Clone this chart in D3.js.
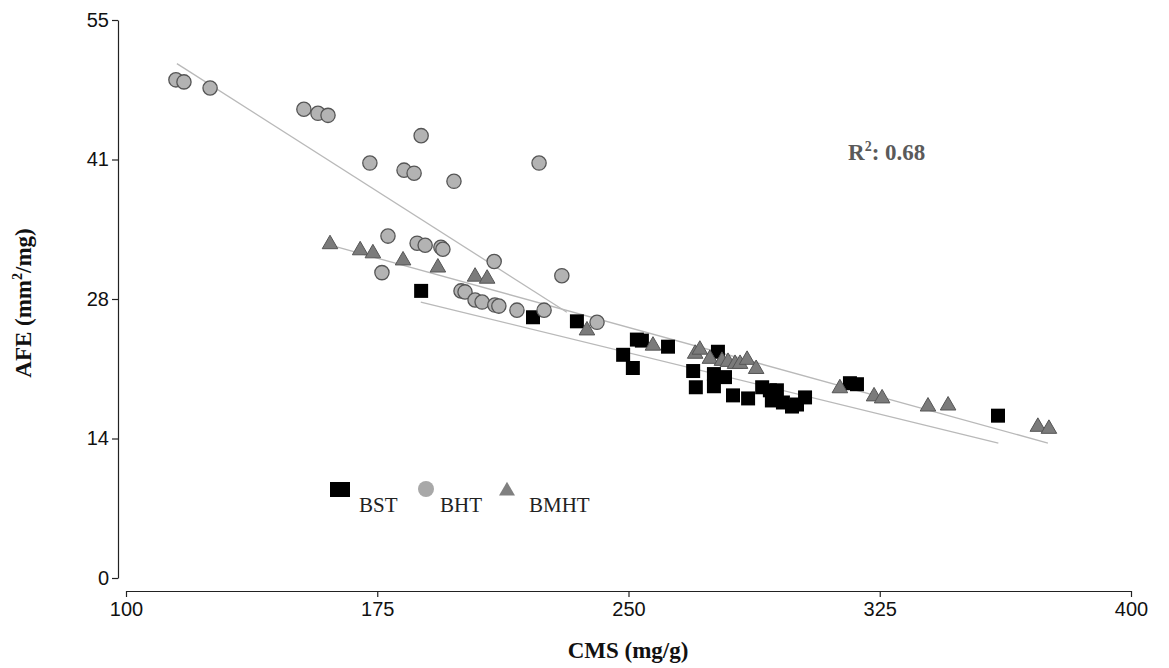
<!DOCTYPE html>
<html>
<head>
<meta charset="utf-8">
<script src="https://cdn.jsdelivr.net/npm/d3@7"></script>
<style>
  body { margin: 0; background: #fff; }
  svg { display: block; }
  .ylab text { font-family: "Liberation Sans", Arial, sans-serif; font-size: 20px; fill: #111; }
  .xlab text { font-family: "Liberation Sans", Arial, sans-serif; font-size: 20px; fill: #111; }
  .title { font-family: "Liberation Serif", "Times New Roman", serif; font-weight: bold; font-size: 23px; fill: #111; }
  .legend { font-family: "Liberation Serif", "Times New Roman", serif; font-size: 21px; fill: #222; }
</style>
</head>
<body>
<svg width="1169" height="668"></svg>
<script>
// BST (squares)
const bst = [
  [188.1, 28.3], [221.5, 25.7], [234.6, 25.3], [248.4, 22.0], [251.3, 20.7],
  [252.5, 23.5], [254.0, 23.4], [261.8, 22.8], [269.3, 20.4], [270.1, 18.8],
  [275.5, 20.1], [276.7, 22.3], [278.8, 19.8], [275.5, 18.9], [281.2, 18.0],
  [285.7, 17.7], [289.9, 18.8], [292.2, 18.5], [294.3, 18.5], [292.8, 17.5],
  [296.1, 17.3], [298.8, 16.9], [300.3, 17.1], [302.7, 17.8], [316.1, 19.2],
  [318.2, 19.1], [360.3, 16.0]
]
// BHT (circles)
const bht = [
  [114.9, 49.1], [117.3, 48.9], [125.1, 48.3], [153.1, 46.2], [157.3, 45.8],
  [160.3, 45.6], [188.1, 43.6], [172.8, 40.9], [223.3, 40.9], [183.0, 40.2],
  [186.0, 39.9], [197.9, 39.1], [178.2, 33.7], [186.9, 33.0], [189.3, 32.8],
  [194.0, 32.6], [194.6, 32.4], [209.9, 31.2], [176.4, 30.1], [230.1, 29.8],
  [200.0, 28.3], [201.2, 28.2], [204.2, 27.4], [206.3, 27.2], [210.1, 26.9],
  [211.3, 26.8], [216.7, 26.4], [224.8, 26.4], [240.6, 25.2]
]
// BMHT (triangles)
const bmht = [
  [160.9, 33.0], [169.9, 32.4], [173.7, 32.1], [182.7, 31.4], [193.1, 30.7],
  [204.2, 29.8], [207.8, 29.6], [237.6, 24.5], [257.3, 23.0], [269.9, 22.2],
  [271.3, 22.6], [274.3, 21.7], [277.9, 21.5], [279.7, 21.4], [281.8, 21.2],
  [283.3, 21.2], [285.4, 21.6], [288.1, 20.7], [313.1, 18.8], [323.3, 18.0],
  [325.7, 17.8], [339.4, 17.0], [345.4, 17.1], [372.2, 15.0], [375.5, 14.8]
]
// fitted lines (end points)
const fitBht = [[115.2, 50.7], [231.6, 26.2]]
const fitBmht = [[162.1, 32.7], [375.2, 13.3]]
const fitBst = [[188.0, 27.2], [360.4, 13.3]]

const xTicks = [100, 175, 250, 325, 400]
const yTicks = [0, 13.75, 27.5, 41.25, 55]
const legendNames = ["BST", "BHT", "BMHT"]

const svg = d3.select("svg")

const x = d3.scaleLinear().domain([100, 400]).range([126, 1131])
const y = d3.scaleLinear().domain([0, 55]).range([578, 20])

// axes
svg.append("g")
  .attr("class", "ylab")
  .attr("transform", "translate(118,0)")
  .call(d3.axisLeft(y).tickValues(yTicks).tickFormat(d => Math.round(d)).tickSize(6).tickSizeOuter(0).tickPadding(3))
  .call(g => g.selectAll("path,line").attr("stroke", "#222").attr("stroke-width", 1.2))

svg.append("g")
  .attr("class", "xlab")
  .attr("transform", "translate(0,591)")
  .call(d3.axisBottom(x).tickValues(xTicks).tickSize(6).tickSizeOuter(0).tickPadding(5))
  .call(g => g.selectAll("path,line").attr("stroke", "#222").attr("stroke-width", 1.2))

svg.append("text").attr("class", "title")
  .attr("x", 628).attr("y", 658).attr("text-anchor", "middle")
  .text("CMS (mg/g)")

const yt = svg.append("text").attr("class", "title")
  .attr("transform", "translate(31,303) rotate(-90)").attr("text-anchor", "middle")
yt.append("tspan").text("AFE (mm")
yt.append("tspan").attr("dy", -9).style("font-size", "14px").text("2")
yt.append("tspan").attr("dy", 9).text("/mg)")

const r2 = svg.append("text").attr("class", "title")
  .attr("x", 848).attr("y", 160).style("fill", "#5a5a5a")
r2.append("tspan").text("R")
r2.append("tspan").attr("dy", -9).style("font-size", "14px").text("2")
r2.append("tspan").attr("dy", 9).text(": 0.68")

// regression lines
const line = d3.line().x(d => x(d[0])).y(d => y(d[1]))
svg.selectAll(".fit")
  .data([fitBht, fitBmht, fitBst])
  .enter()
  .append("path")
  .attr("class", "fit")
  .attr("d", line)
  .attr("fill", "none")
  .attr("stroke", "#b9b9b9")
  .attr("stroke-width", 1.3)

const sq = d3.symbol().type(d3.symbolSquare).size(196)
const ci = d3.symbol().type(d3.symbolCircle).size(160)
const tri = d3.symbol().type(d3.symbolTriangle).size(105)

svg.selectAll(".bst")
  .data(bst)
  .enter()
  .append("path")
  .attr("class", "bst")
  .attr("d", sq)
  .attr("transform", d => `translate(${x(d[0])},${y(d[1])})`)
  .attr("fill", "#000")

svg.selectAll(".bht")
  .data(bht)
  .enter()
  .append("path")
  .attr("class", "bht")
  .attr("d", ci)
  .attr("transform", d => `translate(${x(d[0])},${y(d[1])})`)
  .attr("fill", "#b3b3b3")
  .attr("stroke", "#555")
  .attr("stroke-width", 1.3)

svg.selectAll(".bmht")
  .data(bmht)
  .enter()
  .append("path")
  .attr("class", "bmht")
  .attr("d", tri)
  .attr("transform", d => `translate(${x(d[0])},${y(d[1]) + 1})`)
  .attr("fill", "#7b7b7b")
  .attr("stroke", "#555")
  .attr("stroke-width", 1)

// legend
const lg = svg.append("g")
lg.append("rect").attr("x", 330).attr("y", 482).attr("width", 20).attr("height", 15).attr("fill", "#000")
lg.append("circle").attr("cx", 426).attr("cy", 489).attr("r", 8).attr("fill", "#a8a8a8")
lg.append("path").attr("d", d3.symbol().type(d3.symbolTriangle).size(110)).attr("transform", "translate(507,491)").attr("fill", "#808080")
lg.selectAll(".legend")
  .data(legendNames)
  .enter()
  .append("text")
  .attr("class", "legend")
  .attr("x", (d, i) => [359, 440, 529][i])
  .attr("y", 512)
  .text(d => d)
</script>
</body>
</html>
